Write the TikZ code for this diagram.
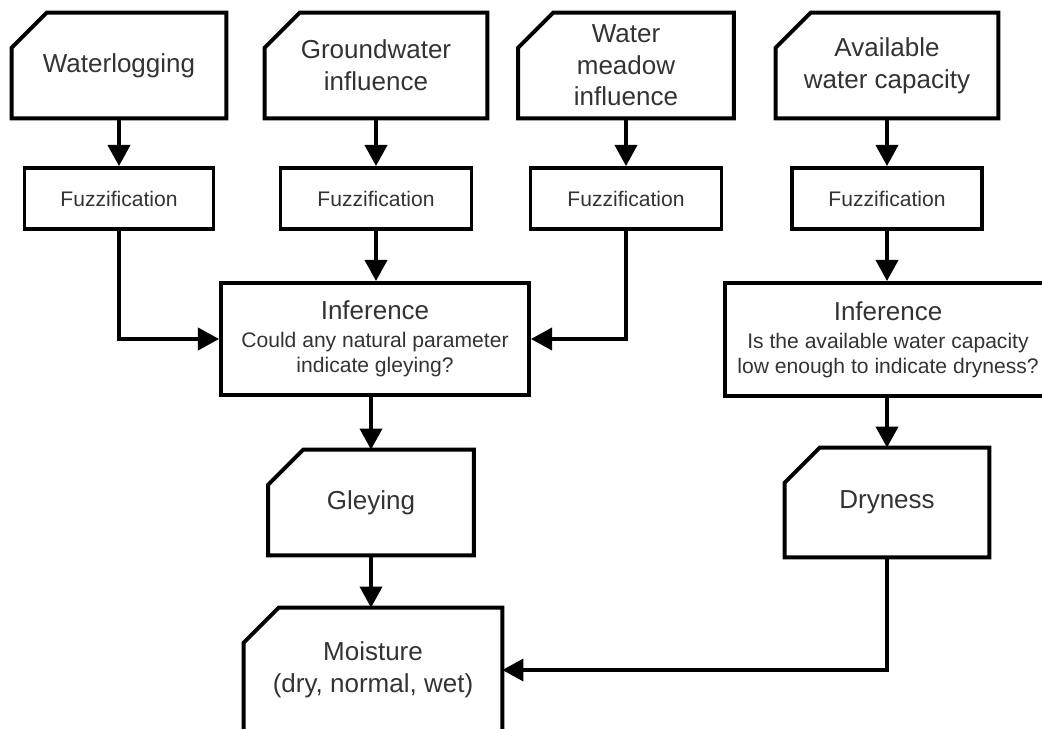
\documentclass[tikz,border=0pt]{standalone}
\usepackage{fontspec}
\setmainfont{Liberation Sans}
\usetikzlibrary{arrows.meta}

\begin{document}
\begin{tikzpicture}[
    every node/.style={align=center, text=black!80, inner sep=0pt},
    big/.style={font=\fontsize{14.8}{18}\selectfont},
    small/.style={font=\fontsize{12}{14.2}\selectfont},
    box/.style={draw, line width=2.2pt},
    card/.style={big, append after command={\pgfextra{\let\cardnode\tikzlastnode
        \draw[line width=2.2pt] ([xshift=0.7cm]\cardnode.north west) -- (\cardnode.north east)
        -- (\cardnode.south east) -- (\cardnode.south west)
        -- ([yshift=-0.7cm]\cardnode.north west) -- cycle;}}},
    flow/.style={line width=2.2pt, -{Triangle[length=12pt,width=12.5pt]}}
  ]
    % Frame of the page
    \useasboundingbox (0,0) rectangle (20.84,-14.58);
    \clip (0,0) rectangle (20.84,-14.58);

    % Input cards
    \node[card, minimum width=4.28cm, minimum height=2.10cm] (wlog) at (2.38,-1.31) {Waterlogging};
    \node[card, minimum width=4.44cm, minimum height=2.10cm] (gwat) at (7.52,-1.31) {Groundwater\\influence};
    \node[card, minimum width=4.30cm, minimum height=2.10cm] (wmea) at (12.52,-1.31) {Water\\meadow\\influence};
    \node[card, minimum width=4.44cm, minimum height=2.10cm] (awc) at (17.74,-1.31) {Available\\water capacity};

    % Fuzzification
    \node[box, small, minimum width=3.78cm, minimum height=1.22cm] (fuz1) at (2.38,-3.97) {Fuzzification};
    \node[box, small, minimum width=3.82cm, minimum height=1.22cm] (fuz2) at (7.52,-3.97) {Fuzzification};
    \node[box, small, minimum width=3.82cm, minimum height=1.22cm] (fuz3) at (12.52,-3.97) {Fuzzification};
    \node[box, small, minimum width=3.80cm, minimum height=1.22cm] (fuz4) at (17.74,-3.97) {Fuzzification};

    % Inference
    \node[box, small, minimum width=6.16cm, minimum height=2.24cm] (inf1) at (7.50,-6.78)
        {{\fontsize{14.8}{16}\selectfont Inference}\\[1.8pt]Could any natural parameter\\indicate gleying?};
    \node[box, small, minimum width=6.52cm, minimum height=2.26cm] (inf2) at (17.76,-6.79)
        {{\fontsize{14.8}{16}\selectfont Inference}\\[1.8pt]Is the available water capacity\\low enough to indicate dryness?};

    % Results
    \node[card, minimum width=4.10cm, minimum height=2.10cm] (gley) at (7.42,-10.05) {Gleying};
    \node[card, minimum width=4.08cm, minimum height=2.18cm] (dry) at (17.74,-10.05) {Dryness};
    \node[card, minimum width=5.16cm, minimum height=2.48cm] (moist) at (7.46,-13.40) {Moisture\\(dry, normal, wet)};

    % Arrows
    \foreach \a/\b in {wlog/fuz1, gwat/fuz2, wmea/fuz3, awc/fuz4}{
        \draw[flow] (\a.south) -- (\b.north);
    }
    \draw[flow] (fuz1.south) |- (inf1.west);
    \draw[flow] (fuz3.south) |- (inf1.east);
    \draw[flow] (fuz2.south) -- (fuz2.south |- inf1.north);
    \draw[flow] (fuz4.south) -- (fuz4.south |- inf2.north);
    \draw[flow] (gley.north |- inf1.south) -- (gley.north);
    \draw[flow] (dry.north |- inf2.south) -- (dry.north);
    \draw[flow] (gley.south) -- (gley.south |- moist.north);
    \draw[flow] (dry.south) |- (moist.east);

\end{tikzpicture}
\end{document}
